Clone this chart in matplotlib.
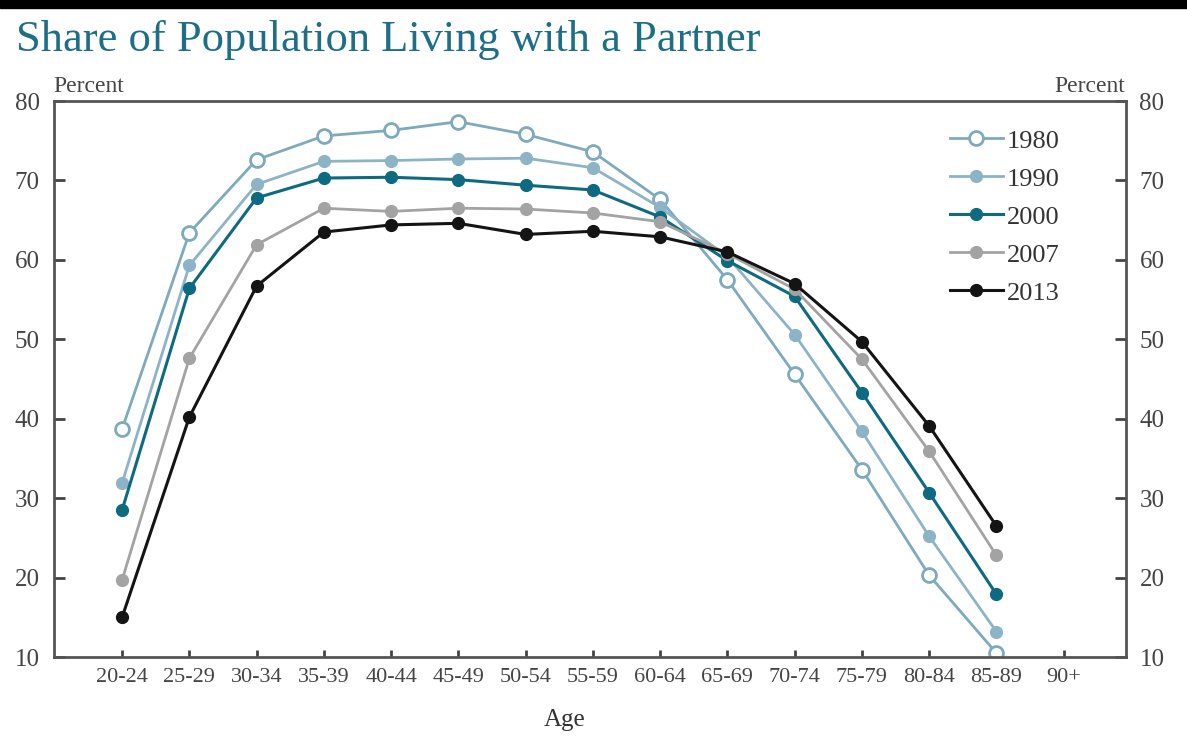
import matplotlib
matplotlib.use("Agg")
import matplotlib.pyplot as plt
import numpy as np
from matplotlib.patches import Rectangle

ages = ["20-24", "25-29", "30-34", "35-39", "40-44", "45-49", "50-54",
        "55-59", "60-64", "65-69", "70-74", "75-79", "80-84", "85-89", "90+"]
nan = np.nan
y1980 = [38.7, 63.4, 72.6, 75.6, 76.3, 77.4, 75.8, 73.6, 67.6, 57.5, 45.6, 33.6, 20.3, 10.5, nan]
y1990 = [31.9, 59.3, 69.5, 72.4, 72.5, 72.7, 72.8, 71.6, 66.6, 60.4, 50.6, 38.4, 25.2, 13.2, nan]
y2000 = [28.5, 56.4, 67.8, 70.3, 70.4, 70.1, 69.4, 68.8, 65.4, 59.9, 55.4, 43.3, 30.7, 17.9, nan]
y2007 = [19.7, 47.6, 61.9, 66.5, 66.1, 66.5, 66.4, 65.9, 64.8, 60.8, 56.3, 47.5, 35.9, 22.8, nan]
y2013 = [15.0, 40.2, 56.7, 63.5, 64.4, 64.6, 63.2, 63.6, 62.9, 61.0, 57.0, 49.7, 39.1, 26.5, nan]
years = ["1980", "1990", "2000", "2007", "2013"]

SERIF = ["Liberation Serif", "DejaVu Serif"]
plt.rcParams["font.family"] = SERIF

W, H = 1187, 740
fig = plt.figure(figsize=(W / 100, H / 100), dpi=100)
ax_l, ax_r, ax_t, ax_b = 53.5, 1125.5, 101, 657
ax = fig.add_axes([ax_l / W, 1 - ax_b / H, (ax_r - ax_l) / W, (ax_b - ax_t) / H])

x = np.arange(len(ages))
styles = [
    (y1980, dict(color="#7eaabd", marker="o", mfc="white", mec="#7eaabd", mew=2.0, ms=10, lw=2.0)),
    (y1990, dict(color="#8db4c6", marker="o", mfc="#8db4c6", mec="#8db4c6", ms=8.5, lw=2.0)),
    (y2000, dict(color="#0e6a80", marker="o", mfc="#0e6a80", mec="#0e6a80", ms=8.5, lw=2.2)),
    (y2007, dict(color="#a3a3a3", marker="o", mfc="#a3a3a3", mec="#a3a3a3", ms=8.5, lw=2.0)),
    (y2013, dict(color="#141414", marker="o", mfc="#141414", mec="#141414", ms=8.5, lw=2.2)),
]
for (vals, st), lab in zip(styles, years):
    ax.plot(x, vals, label=lab, **st)

ax.set_xlim(-1.02, 14.92)
ax.set_ylim(10, 80)
ax.set_xticks(x)
ax.set_xticklabels(ages)
ax.set_yticks(range(10, 81, 10))

for s in ax.spines.values():
    s.set_color("#555555")
    s.set_linewidth(2.0)

ax.tick_params(axis="both", direction="in", length=8, width=2.0, color="#444444",
               labelcolor="#444444")
ax.tick_params(axis="x", length=5, pad=8, labelsize=16)
ax.tick_params(axis="y", pad=10, right=True, labelright=True, labelsize=18)

fig.text(565 / W, 1 - 720 / H, "Age", fontsize=18, color="#333333", ha="center", va="center")

fig.text(ax_l / W, 1 - 92 / H, "Percent", fontsize=17, color="#444444", ha="left", va="baseline")
fig.text(ax_r / W, 1 - 92 / H, "Percent", fontsize=17, color="#444444", ha="right", va="baseline")

fig.text(16 / W, 1 - 40 / H, "Share of Population Living with a Partner", fontsize=32,
         color="#1c6f86", ha="left", va="center")

leg = ax.legend(loc="upper left", bbox_to_anchor=(0.814, 0.992), frameon=False,
                fontsize=19, handlelength=2.0, handletextpad=0.15, labelspacing=0.55,
                labelcolor="#333333")

fig.patches.append(Rectangle((0, 1 - 8 / H), 1, 8 / H, transform=fig.transFigure,
                             color="black", zorder=10))

fig.savefig("out.png", dpi=100)
